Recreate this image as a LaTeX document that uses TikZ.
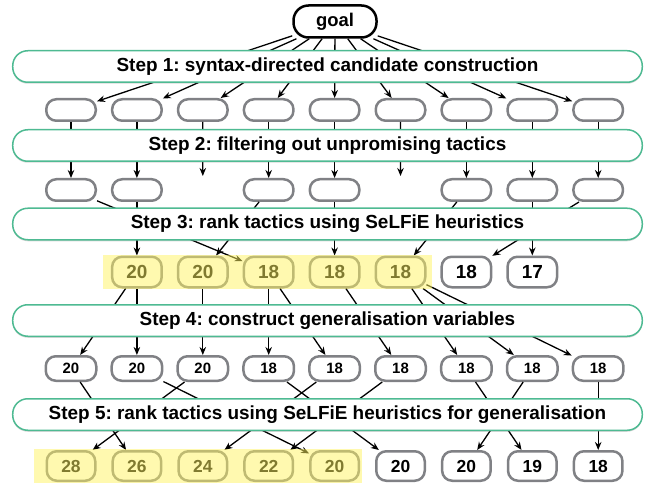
\documentclass[tikz,border=0pt]{standalone}
\usepackage{fontspec}
\setmainfont{Liberation Sans}
\usepackage{xcolor}
\usetikzlibrary{arrows.meta,shadows}
\frenchspacing

\definecolor{stepgreen}{RGB}{78,186,146}
\definecolor{tacgray}{RGB}{128,129,133}
\definecolor{hiyellow}{RGB}{255,244,96}

\begin{document}
\begin{tikzpicture}[x=1bp,y=-1bp]
            \tikzset{goalv/.style = {draw, line width=2.5bp, fill=white, rounded corners=15bp, minimum width=83bp, minimum height=32bp, inner sep=0pt, font=\fontsize{18.5}{20}\selectfont\bfseries}}
            \tikzset{tactic/.style = {draw=tacgray, fill=white, line width=2.5bp, rounded corners=10bp, minimum width=49.5bp, minimum height=21.5bp, inner sep=0pt}}
            \tikzset{scored/.style = {tactic, minimum height=30.5bp, font=\fontsize{19}{21}\selectfont\bfseries}}
            \tikzset{genvar/.style = {tactic, minimum width=50.5bp, minimum height=24.5bp, font=\fontsize{15}{17}\selectfont\bfseries}}
            \tikzset{ranked/.style = {tactic, minimum width=48.5bp, minimum height=29.5bp, font=\fontsize{17.5}{19}\selectfont\bfseries}}
            \tikzset{stepbar/.style = {draw=stepgreen, fill=white, line width=1.5bp, rounded corners=15bp, minimum width=629.5bp, minimum height=31.5bp, inner sep=0pt, font=\fontsize{19}{21}\selectfont\bfseries, drop shadow={shadow xshift=0bp, shadow yshift=-1.5bp, opacity=0.3, fill=black!50}}}
            \tikzset{edge/.style = {-{Stealth[length=8bp,width=6.5bp]}, line width=1.3bp}}
            \tikzset{hilite/.style = {fill=hiyellow, fill opacity=0.5}}

            \useasboundingbox (0,0) rectangle (654,487);

            % vertices
            \node[goalv] (goal) at (335,21.5) {goal};
            \foreach \x in {1,...,9}
            {
              \node[tactic] (a\x) at ({71+65.9*(\x-1)},110) {};
            }
            \foreach \x in {1,2,4,5,7,8,9}
            {
              \node[tactic] (b\x) at ({71+65.9*(\x-1)},190) {};
            }
            \coordinate (b3) at (202.8,176);
            \coordinate (b6) at (400.5,176);
            \foreach \x/\v in {2/20,3/20,4/18,5/18,6/18,7/18,8/17}
            {
              \node[scored] (c\x) at ({71+65.9*(\x-1)},272) {\v};
            }
            \foreach \x/\v in {1/20,2/20,3/20,4/18,5/18,6/18,7/18,8/18,9/18}
            {
              \node[genvar] (d\x) at ({71+65.9*(\x-1)},368.5) {\v};
            }
            \foreach \x/\v in {1/28,2/26,3/24,4/22,5/20,6/20,7/20,8/19,9/18}
            {
              \node[ranked] (e\x) at ({71+65.9*(\x-1)},466) {\v};
            }

            % edges
            \foreach \x in {1,...,9} {\draw[edge] (goal) to (a\x);}
            \foreach \x in {1,...,9} {\draw[edge] (a\x) to (b\x);}
            \foreach \x/\y in {1/4,2/2,4/3,5/5,7/6,8/8,9/7} {\draw[edge] (b\x) to (c\y);}
            \foreach \x/\y in {2/1,2/2,3/3,4/4,4/5,5/6,6/7,6/8,6/9} {\draw[edge] (c\x) to (d\y);}
            \foreach \x/\y in {1/2,2/5,3/1,4/6,5/3,6/4,7/8,8/7,9/9} {\draw[edge] (d\x) to (e\y);}

            % steps
            \node[stepbar] (s1) at (327.5,66.5) {Step 1: syntax-directed candidate construction};
            \node[stepbar] (s2) at (327.5,145.5) {Step 2: filtering out unpromising tactics};
            \node[stepbar] (s3) at (327.5,224) {Step 3: rank tactics using SeLFiE heuristics};
            \node[stepbar] (s4) at (327.5,320.5) {Step 4: construct generalisation variables};
            \node[stepbar] (s5) at (327.5,414.5) {Step 5: rank tactics using SeLFiE heuristics for generalisation};

            % highlights
            \fill[hilite] (103,255) rectangle (432,289);
            \fill[hilite] (34,449) rectangle (362,483);

          \end{tikzpicture}
\end{document}
